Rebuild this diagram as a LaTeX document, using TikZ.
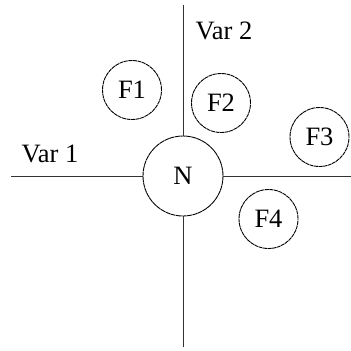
\documentclass[tikz,border=0pt]{standalone}
\usepackage{fontspec}
\setmainfont{Liberation Serif}
\begin{document}
\begin{tikzpicture}[x=1pt,y=-1pt,
  every node/.style={font=\fontsize{26.5}{30}\selectfont},
  fcircle/.style={draw, circle, line width=0.9pt, dash pattern=on 4pt off 0.6pt, inner sep=0pt, minimum size=59pt},
  ncircle/.style={draw, circle, line width=0.9pt, dash pattern=on 5pt off 0.5pt, inner sep=0pt, minimum size=80pt},
  axis/.style={line width=1pt, draw=black!80}]
\useasboundingbox (0,0) rectangle (351,351);
\node[ncircle] (N) at (183,176) {N};
\node[fcircle] (F1) at (132,90) {F1};
\node[fcircle] (F2) at (221,103) {F2};
\node[fcircle] (F3) at (319.5,137) {F3};
\node[fcircle] (F4) at (268.5,219) {F4};
\coordinate (top) at (183,5);
\coordinate (bot) at (183,347);
\coordinate (left) at (11,176);
\coordinate (right) at (351,176);
\draw[axis] (N.north) -- (top);
\draw[axis] (N.south) -- (bot);
\draw[axis] (N.west) -- (left);
\draw[axis] (N.east) -- (right);
\node[anchor=base, inner sep=0pt] (v1) at (50,162) {Var 1};
\node[anchor=base, inner sep=0pt] (v2) at (224,39) {Var 2};
\end{tikzpicture}
\end{document}
